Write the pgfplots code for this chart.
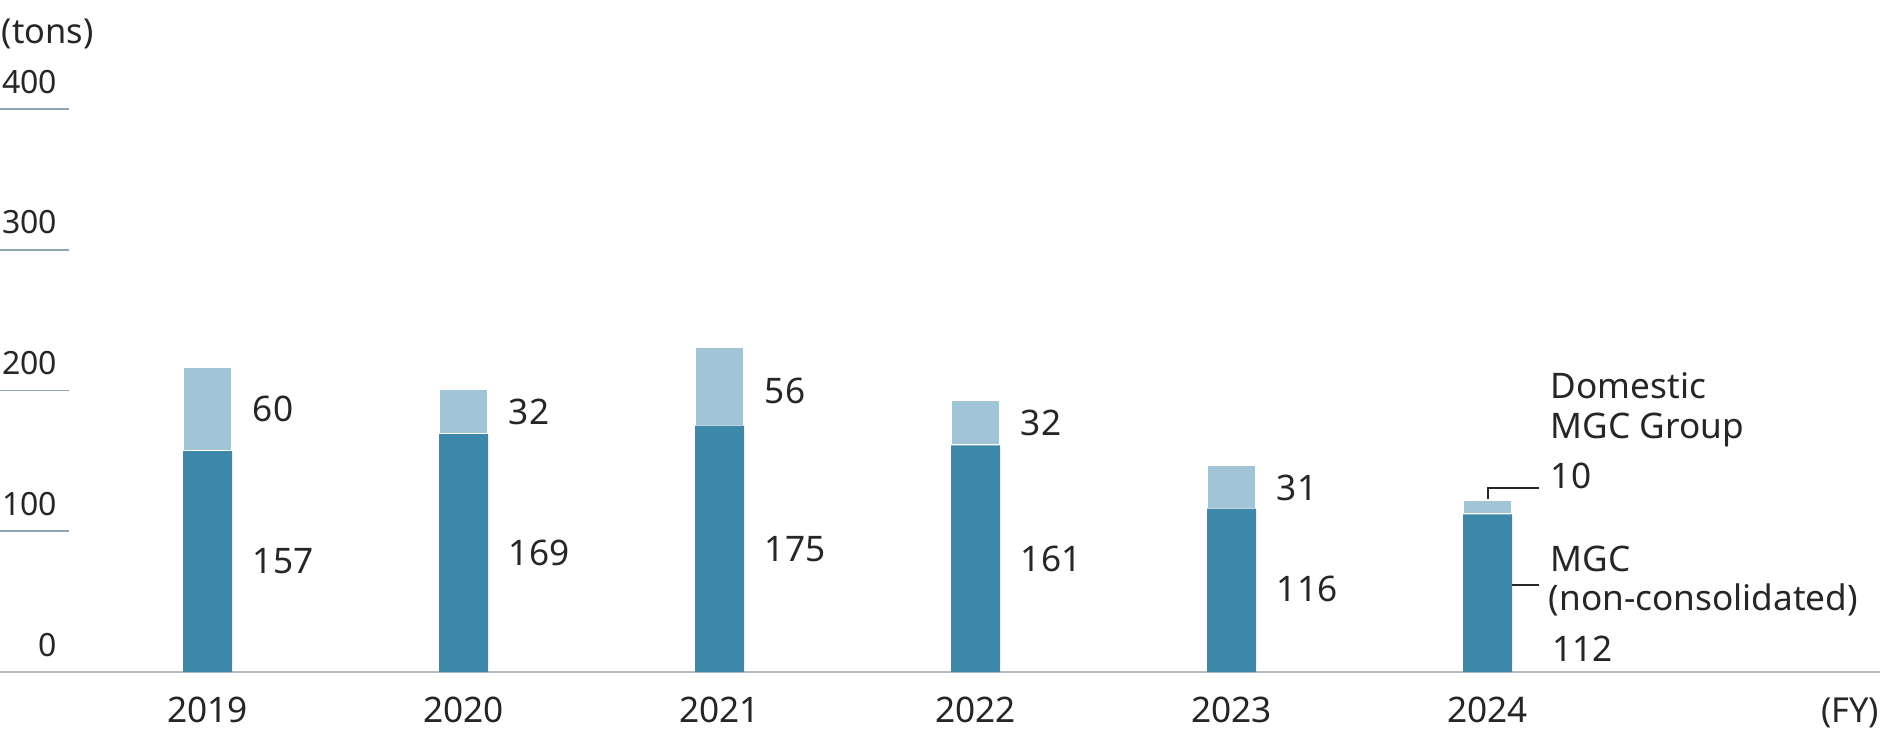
\documentclass[border=0pt]{standalone}
\usepackage{pgfplots}
\pgfplotsset{compat=1.18}
\usepackage{pgfplotstable}
\usepackage{fontspec}
\setmainfont{Noto Sans}
\definecolor{darkbar}{HTML}{3D87A8}
\definecolor{lightbar}{HTML}{A1C4D6}
\definecolor{stub}{HTML}{8FA5B3}
\definecolor{baseg}{HTML}{B4BCC3}
\definecolor{txt}{HTML}{262626}

\pgfplotstableread{
x mgc grp
0 157 60
1 169 32
2 175 56
3 161 32
4 116 31
5 112 10
}\bardata

\pgfplotstableread{
x y lab
0.174 187 60
0.174 78.5 157
1.174 185 32
1.174 84.5 169
2.174 200 56
2.174 87.5 175
3.174 177 32
3.174 80.5 161
4.174 130.5 31
4.174 59 116
5.244 139 10
5.25 16.5 112
}\labdata

\pgfplotsset{
  common/.style={
    scale only axis,
    width=470pt, height=140.75pt,
    xmin=-0.811, xmax=6.533,
    ymin=0, ymax=400,
    clip=false,
    at={(0pt,17pt)}, anchor=south west,
  }
}

\begin{document}
\begin{tikzpicture}[font=\fontsize{8.8}{10}\selectfont, text=txt]
\useasboundingbox (0,0) rectangle (470pt,185pt);
\begin{axis}[
  common,
  ybar stacked, bar width=12.3pt,
  axis lines*=left,
  axis line style={-},
  y axis line style={draw=none},
  x axis line style={draw=baseg, line width=0.7pt},
  major tick length=0pt,
  xtick={0,1,2,3,4,5},
  xticklabels={2019,2020,2021,2022,2023,2024},
  xticklabel style={anchor=base, inner sep=0pt, yshift=-12.6pt, text=txt},
  ytick={0,100,200,300,400},
  yticklabel style={anchor=south east, inner sep=0pt, xshift=14.5pt, yshift=3.7pt, text=txt, font=\fontsize{8}{9}\selectfont},
  /pgf/number format/assume math mode=true,
]
\addplot[fill=darkbar, draw=none] table[x=x, y=mgc] {\bardata};
\addplot[fill=lightbar, draw=white, line width=0.5pt] table[x=x, y=grp] {\bardata};
\foreach \v in {100,200,300,400} {
  \edef\tmp{\noexpand\draw[stub, line width=0.45pt] (axis cs:-0.811,\v) -- (axis cs:-0.541,\v);}
  \tmp
}
\draw[black!85, line width=0.5pt] (axis cs:5,118.4) |- (axis cs:5.20,131);
\draw[black!85, line width=0.5pt] (axis cs:5.065,61.7) -- (axis cs:5.20,61.7);
\node[anchor=base west, inner sep=0pt] at (axis cs:5.244,194) {Domestic};
\node[anchor=base west, inner sep=0pt] at (axis cs:5.244,165.7) {MGC Group};
\node[anchor=base west, inner sep=0pt] at (axis cs:5.244,71.2) {MGC};
\node[anchor=base west, inner sep=0pt] at (axis cs:5.236,44) {(non-consolidated)};
\node[anchor=base east, inner sep=0pt, font=\fontsize{8.6}{10}\selectfont] at ([yshift=-12.6pt]rel axis cs:1,0) {(FY)};
\end{axis}
\begin{axis}[
  common,
  hide axis,
]
\addplot[only marks, mark=none, nodes near coords, point meta=explicit symbolic,
  nodes near coords style={anchor=west, inner sep=0pt, text=txt}]
  table[x=x, y=y, meta=lab] {\labdata};
\end{axis}
\node[anchor=base west, inner sep=0pt, font=\fontsize{8.6}{10}\selectfont] at (0.3pt,174.2pt) {(tons)};
\end{tikzpicture}
\end{document}
